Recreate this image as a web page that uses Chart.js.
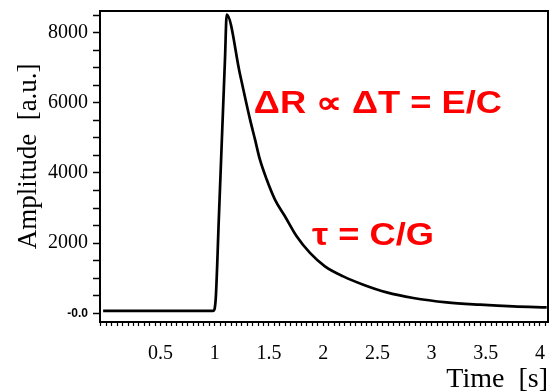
<!DOCTYPE html>
<html>
<head>
<meta charset="utf-8">
<script src="https://cdn.jsdelivr.net/npm/chart.js@4"></script>
<style>
  html, body { margin: 0; padding: 0; background: #fff; overflow: hidden; }
  #wrap { width: 553px; height: 392px; }
</style>
</head>
<body>
<div id="wrap"><canvas id="myChart" width="553" height="392"></canvas></div>
<script>
// time [s] and amplitude [a.u.]
const timeValues = [-0.03, 0.5, 0.986, 1.008, 1.037, 1.066, 1.094, 1.110, 1.232, 1.325, 1.371,
                    1.416, 1.479, 1.555, 1.647, 1.755, 1.878, 2.016, 2.185, 2.370, 2.586, 2.831,
                    3.139, 3.446, 3.754, 4.062];
const amplitudeValues = [70, 70, 70, 386, 2671, 5014, 7243, 8520, 6823, 5528, 4957,
                         4385, 3814, 3242, 2766, 2194, 1720, 1337, 1051, 814, 594, 434,
                         309, 243, 194, 166];
const xTickLabels = ['0.5', '1', '1.5', '2', '2.5', '3', '3.5', '4'];
const yTickLabels = ['2000', '4000', '6000', '8000'];
const zeroLabel = '-0.0';
const annotations = ['\u0394R \u221D \u0394T = E/C', '\u03C4 = C/G'];

const points = timeValues.map((t, i) => ({ x: t, y: amplitudeValues[i] }));

// рамка вокруг области графика и красные надписи
const boxAndText = {
    id: 'boxAndText',
    afterDraw(chart) {
        const ctx = chart.ctx;
        const a = chart.chartArea;
        const xs = chart.scales.x, ys = chart.scales.y;
        ctx.save();
        ctx.strokeStyle = '#000';
        ctx.lineWidth = 2;
        ctx.strokeRect(a.left, a.top, a.right - a.left, a.bottom - a.top);
        ctx.restore();

        ctx.fillStyle = '#ff0000';
        ctx.font = 'bold 31px "Liberation Sans", Arial, sans-serif';
        ctx.textBaseline = 'alphabetic';
        const put = (text, t, v) => {
            ctx.save();
            ctx.translate(xs.getPixelForValue(t), ys.getPixelForValue(v));
            ctx.scale(1.17, 1); // в оригинале шрифт растянут по ширине
            ctx.fillText(text, 0, 0);
            ctx.restore();
        };
        put(annotations[0], 1.36, 5710);
        put(annotations[1], 1.896, 1960);
    }
};

const serif = '"Liberation Serif", "Times New Roman", serif';

new Chart(document.getElementById('myChart').getContext('2d'), {
    type: 'line',
    data: {
        datasets: [{
            data: points,
            borderColor: '#000',
            borderWidth: 2.7,
            pointRadius: 0,
            cubicInterpolationMode: 'monotone',
            fill: false
        }]
    },
    options: {
        responsive: false,
        animation: false,
        layout: { padding: { left: 0, right: 5, top: 0, bottom: 0 } },
        plugins: { legend: { display: false }, tooltip: { enabled: false } },
        scales: {
            x: {
                type: 'linear',
                min: -0.059,
                max: 4.074,
                afterFit: s => { s.height = 70; s.paddingLeft = 0; s.paddingRight = 0; },
                border: { display: true, color: '#000', width: 2 },
                grid: { drawOnChartArea: false, drawTicks: true, tickLength: 4, tickColor: '#000', tickWidth: 1.2 },
                ticks: {
                    stepSize: 0.05,
                    includeBounds: false,
                    autoSkip: false,
                    maxRotation: 0,
                    padding: 16,
                    color: '#000',
                    font: { family: serif, size: 20 },
                    callback: v => {
                        const s = String(Math.round(v * 100) / 100);
                        return xTickLabels.includes(s) ? s : '';
                    }
                },
                title: {
                    display: true,
                    text: 'Time  [s]',
                    align: 'end',
                    color: '#000',
                    font: { family: serif, size: 28, lineHeight: 0.9 },
                    padding: { top: 0, bottom: 0 }
                }
            },
            y: {
                min: -250,
                max: 8620,
                // шаг 500 задаём вручную: при min=-250 Chart.js сдвигает деления
                afterBuildTicks: s => {
                    const ticks = [];
                    for (let v = 0; v <= 8500; v += 500) ticks.push({ value: v });
                    s.ticks = ticks;
                },
                afterFit: s => { s.width = 100; s.paddingTop = 11; s.paddingBottom = 0; },
                border: { display: true, color: '#000', width: 2 },
                grid: { drawOnChartArea: false, drawTicks: true, tickLength: 7, tickColor: '#000', tickWidth: 1.5 },
                ticks: {
                    autoSkip: false,
                    padding: 5,
                    color: '#000',
                    font: ctx => (ctx.tick && ctx.tick.value === 0)
                        ? { family: '"Liberation Sans", Arial, sans-serif', size: 12, weight: 'bold' }
                        : { family: serif, size: 20 },
                    callback: v => {
                        if (v === 0) return zeroLabel;
                        const s = String(v);
                        return yTickLabels.includes(s) ? s : '';
                    }
                },
                title: {
                    display: true,
                    text: '   Amplitude  [a.u.]',
                    color: '#000',
                    font: { family: serif, size: 27, lineHeight: 1 },
                    padding: { top: 15, bottom: 0 }
                }
            }
        }
    },
    plugins: [boxAndText]
});
</script>
</body>
</html>
